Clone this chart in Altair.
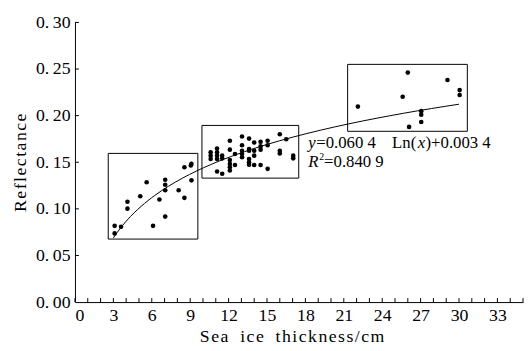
import altair as alt
import pandas as pd

# ---- data ----
thin_x = [3.1, 3.1, 3.6, 4.1, 4.1, 5.1, 5.6, 6.1, 6.6, 7.05, 7.05, 7.05, 7.05,
          8.1, 8.55, 8.55, 9.05, 9.1, 9.1]
thin_y = [0.0818, 0.0737, 0.0808, 0.1076, 0.1002, 0.1136, 0.1285, 0.0818, 0.1100,
          0.1312, 0.1259, 0.1200, 0.0917, 0.1200, 0.1447, 0.1118, 0.1465, 0.1482, 0.1306]

mid_x = [10.6, 10.6, 10.6, 11.1, 11.1, 11.1, 11.1, 11.1, 11.5, 11.5, 11.5,
         12.1, 12.1, 12.1, 12.1, 12.1, 12.1, 12.5, 12.5,
         13.05, 13.05, 13.05, 13.05, 13.05, 13.6, 13.6, 13.6, 13.6, 13.6, 13.6,
         14.0, 14.0, 14.0, 14.0, 14.5, 14.5, 14.5, 14.5, 15.05, 15.05, 15.05,
         16.0, 16.0, 16.0, 16.5, 17.05, 17.05]
mid_y = [0.1606, 0.1571, 0.1535, 0.1648, 0.1606, 0.1571, 0.1535, 0.1401, 0.1571, 0.1542, 0.1376,
         0.1730, 0.1635, 0.1524, 0.1482, 0.1447, 0.1412, 0.1588, 0.1471,
         0.1776, 0.1683, 0.1624, 0.1588, 0.1553, 0.1754, 0.1641, 0.1624, 0.1535, 0.1500, 0.1474,
         0.1712, 0.1624, 0.1571, 0.1471, 0.1719, 0.1670, 0.1635, 0.1471, 0.1730, 0.1683, 0.1429,
         0.1800, 0.1624, 0.1595, 0.1747, 0.1571, 0.1542]

thick_x = [22.1, 26.0, 25.6, 26.1, 27.05, 27.05, 27.05, 29.1, 30.05, 30.05]
thick_y = [0.2097, 0.2462, 0.2203, 0.1879, 0.2048, 0.2009, 0.1932, 0.2383, 0.2274, 0.2221]

box_left = [2.6, 9.92, 21.3]
box_right = [9.6, 17.48, 30.65]
box_bottom = [0.0676, 0.1330, 0.1832]
box_top = [0.1595, 0.1895, 0.2550]

x_label_values = [0, 3, 6, 9, 12, 15, 18, 21, 24, 27, 30, 33]
x_tick_values = list(range(0, 36))
y_tick_values = [0.0, 0.05, 0.10, 0.15, 0.20, 0.25, 0.30]

fit_extent = [3, 30]
eq_line1 = [("y", "italic"), ("=0.060 4", "normal"), ("Ln(", "normal"), ("x", "italic"), (")+0.003 4", "normal")]
eq_line2 = [("R", "italic"), ("2", "normal"), ("=0.840 9", "normal")]

x_title = "Sea ice thickness/cm"
y_title = "Reflectance"

# ---- build ----
FONT = "Liberation Serif"
HS = "\u200a"


def spaced(s):
    return HS.join(ch if ch != " " else "\u2002" for ch in s)


pts = pd.DataFrame({"x": thin_x + mid_x + thick_x, "y": thin_y + mid_y + thick_y})
boxes = pd.DataFrame({"bl": box_left, "br": box_right, "bb": box_bottom, "bt": box_top})
xt = pd.DataFrame({"x": x_tick_values})
yt = pd.DataFrame({"y": y_tick_values[1:]})

xs = alt.Scale(domain=[0, 35], nice=False, zero=False)
ys = alt.Scale(domain=[0, 0.3], nice=False, zero=False)

x_axis = alt.Axis(
    values=x_label_values, ticks=False, grid=False, title=spaced(x_title),
    labelPadding=5, titlePadding=3, labelFontSize=18, titleFontSize=18,
    titleFontWeight="normal", titleX=220)
y_axis = alt.Axis(
    values=y_tick_values, ticks=False, grid=False, title=spaced(y_title),
    labelExpr="replace(format(datum.value, '.2f'), '.', '.\u2009')",
    labelPadding=5, titlePadding=6, labelFontSize=18, titleFontSize=18,
    titleFontWeight="normal")

points = alt.Chart(pts).mark_circle(size=22, color="black", opacity=1).encode(
    x=alt.X("x:Q", scale=xs, axis=x_axis),
    y=alt.Y("y:Q", scale=ys, axis=y_axis),
)

rects = alt.Chart(boxes).mark_rect(fillOpacity=0, stroke="black", strokeWidth=1).encode(
    x=alt.X("bl:Q", scale=xs, axis=x_axis), x2="br:Q",
    y=alt.Y("bb:Q", scale=ys, axis=y_axis), y2="bt:Q",
)

fit = alt.Chart(pts).transform_regression(
    "x", "y", method="log", extent=fit_extent
).mark_line(color="black", strokeWidth=1).encode(
    x=alt.X("x:Q", scale=xs, axis=x_axis),
    y=alt.Y("y:Q", scale=ys, axis=y_axis),
)

xticks = alt.Chart(xt).mark_rule(color="black", strokeWidth=1).encode(
    x=alt.X("x:Q", scale=xs, axis=x_axis),
    y=alt.value(284), y2=alt.value(280),
)
yticks = alt.Chart(yt).mark_rule(color="black", strokeWidth=1).encode(
    y=alt.Y("y:Q", scale=ys, axis=y_axis),
    x=alt.value(0), x2=alt.value(4),
)

texts = []
dx1 = [0, 8, 85, 111, 119]
for (t, st), d in zip(eq_line1, dx1):
    texts.append(alt.Chart(pd.DataFrame({"t": [t]})).mark_text(
        align="left", baseline="alphabetic", font=FONT, fontSize=17, fontStyle=st,
        color="black", dx=d).encode(text="t:N", x=alt.value(237), y=alt.value(128)))
dx2 = [0, 11, 16]
sizes2 = [17, 10, 17]
dy2 = [0, -7, 0]
for (t, st), d, s, dyy in zip(eq_line2, dx2, sizes2, dy2):
    texts.append(alt.Chart(pd.DataFrame({"t": [t]})).mark_text(
        align="left", baseline="alphabetic", font=FONT, fontSize=s, fontStyle=st,
        color="black", dx=d, dy=dyy).encode(text="t:N", x=alt.value(237), y=alt.value(147)))

chart = alt.layer(points, rects, fit, xticks, yticks, *texts).properties(
    width=455, height=284,
    autosize=alt.AutoSizeParams(type="none"),
    padding={"left": 68, "top": 12, "right": 1, "bottom": 45},
).configure_view(stroke=None).configure_axis(
    labelFont=FONT, titleFont=FONT, labelColor="black", titleColor="black",
    domainColor="black", domainWidth=1,
).configure_text(font=FONT)

chart.save("out.html", embed_options={"renderer": "svg", "actions": False})
